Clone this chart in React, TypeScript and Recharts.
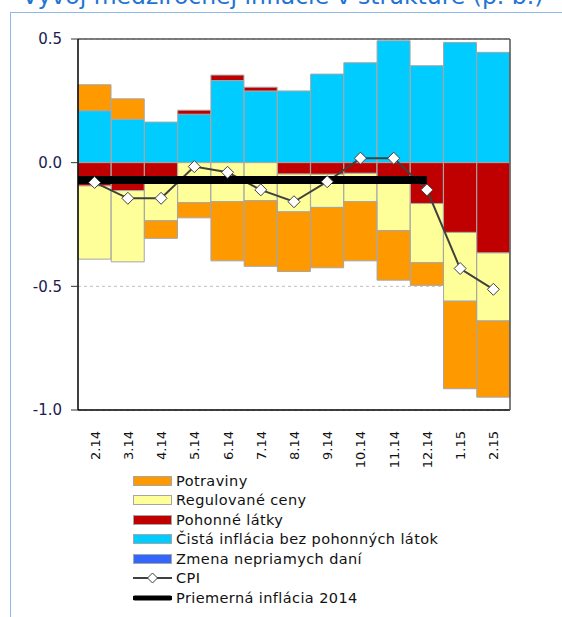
import React from 'react';
import {
  ComposedChart,
  Bar,
  Line,
  XAxis,
  YAxis,
  CartesianGrid,
  ReferenceLine,
} from 'recharts';

// months (Feb 2014 - Feb 2015)
const categories = ['2.14', '3.14', '4.14', '5.14', '6.14', '7.14', '8.14', '9.14', '10.14', '11.14', '12.14', '1.15', '2.15'];

// contributions in p. b.
const potraviny = [0.105, 0.082, -0.071, -0.061, -0.239, -0.265, -0.241, -0.244, -0.239, -0.2, -0.091, -0.354, -0.308];
const regulovane = [-0.296, -0.288, -0.165, -0.162, -0.158, -0.154, -0.153, -0.134, -0.115, -0.21, -0.24, -0.278, -0.275];
const pohonne = [-0.094, -0.113, -0.07, 0.016, 0.022, 0.015, -0.046, -0.047, -0.043, -0.065, -0.165, -0.282, -0.365];
const cista = [0.21, 0.176, 0.164, 0.196, 0.332, 0.29, 0.29, 0.358, 0.404, 0.493, 0.392, 0.486, 0.446];
const cpi = [-0.08, -0.144, -0.144, -0.016, -0.039, -0.11, -0.158, -0.077, 0.018, 0.018, -0.11, -0.428, -0.512];

// average 2014, drawn across the 2014 months
const avg2014 = -0.07;
const avgFrom = '2.14';
const avgTo = '12.14';

const yTicks = [-1, -0.5, 0, 0.5];

const FONT = '"DejaVu Sans", Verdana, sans-serif';
const LABEL = '#1c1c50';

const data = categories.map((c, i) => ({
  cat: c,
  potraviny: potraviny[i],
  regulovane: regulovane[i],
  pohonne: pohonne[i],
  cista: cista[i],
  cpi: cpi[i],
}));

function Diamond(props: any) {
  const { cx, cy } = props;
  if (cx == null || cy == null) return null;
  const r = 6;
  return (
    <polygon
      points={`${cx},${cy - r} ${cx + r},${cy} ${cx},${cy + r} ${cx - r},${cy}`}
      fill="#fff"
      stroke="#404040"
      strokeWidth={1}
    />
  );
}

// the Excel line starts at the left edge of the first band, so stretch the
// segment half a band to the left (band width taken from the segment itself)
function AvgLine(props: any) {
  const { x1, y1, x2, y2 } = props;
  if (x1 == null || x2 == null) return null;
  const steps = categories.indexOf(avgTo) - categories.indexOf(avgFrom);
  const half = (x2 - x1) / steps / 2;
  return <line x1={x1 - half} y1={y1} x2={x2} y2={y2} stroke="#000" strokeWidth={8} />;
}

function MonthTick({ x, y, payload }: any) {
  return (
    <text
      x={x + 5}
      y={y + 13}
      transform={`rotate(-90, ${x + 5}, ${y + 13})`}
      textAnchor="end"
      fontSize={13}
      fontFamily={FONT}
      fill="#111"
    >
      {payload.value}
    </text>
  );
}

const legendItems = [
  { name: 'Potraviny', color: '#FF9900', kind: 'box' },
  { name: 'Regulované ceny', color: '#FFFF99', kind: 'box' },
  { name: 'Pohonné látky', color: '#C00000', kind: 'box' },
  { name: 'Čistá inflácia bez pohonných látok', color: '#00CCFF', kind: 'box' },
  { name: 'Zmena nepriamych daní', color: '#3366FF', kind: 'box' },
  { name: 'CPI', color: '#404040', kind: 'cpi' },
  { name: 'Priemerná inflácia 2014', color: '#000', kind: 'thick' },
];

function Swatch({ kind, color }: { kind: string; color: string }) {
  if (kind === 'box') {
    return (
      <span
        style={{
          display: 'inline-block',
          width: 37,
          height: 8,
          background: color,
          border: '1px solid #a6a6a6',
        }}
      />
    );
  }
  if (kind === 'cpi') {
    return (
      <svg width={39} height={12} style={{ display: 'block' }}>
        <line x1={0} y1={6} x2={39} y2={6} stroke={color} strokeWidth={2} />
        <polygon points="19.5,1 24.5,6 19.5,11 14.5,6" fill="#fff" stroke={color} strokeWidth={1} />
      </svg>
    );
  }
  return (
    <svg width={39} height={12} style={{ display: 'block' }}>
      <line x1={2} y1={6} x2={37} y2={6} stroke={color} strokeWidth={5} strokeLinecap="round" />
    </svg>
  );
}

export default function App() {
  return (
    <div
      style={{
        position: 'fixed',
        left: 0,
        top: 0,
        width: 562,
        height: 617,
        background: '#fff',
        overflow: 'hidden',
        fontFamily: FONT,
      }}
    >
      {/* title, cut off by the crop */}
      <div
        style={{
          position: 'absolute',
          left: 22,
          top: -18,
          fontSize: 23.5,
          color: '#1f74d4',
          whiteSpace: 'nowrap',
        }}
      >
        Vývoj medziročnej inflácie v štruktúre (p. b.)
      </div>
      <div
        style={{
          position: 'absolute',
          left: 10,
          top: 12,
          width: 560,
          height: 620,
          borderLeft: '1px solid #8fb8ea',
          borderTop: '1px solid #8fb8ea',
        }}
      />

      <div style={{ position: 'absolute', left: 0, top: 0 }}>
        <ComposedChart
          width={562}
          height={470}
          data={data}
          margin={{ top: 39, right: 0, left: 0, bottom: 0 }}
          barCategoryGap={0}
          stackOffset="sign"
        >
          <CartesianGrid yAxisId="l" xAxisId="c" vertical={false} stroke="#c0c0c0" strokeDasharray="3 3" />
          <XAxis
            xAxisId="c"
            dataKey="cat"
            height={60}
            interval={0}
            tick={<MonthTick />}
            tickLine={false}
            axisLine={{ stroke: '#000', strokeWidth: 1.5 }}
          />
          <YAxis
            yAxisId="l"
            width={78}
            domain={[-1, 0.5]}
            ticks={yTicks}
            tickFormatter={(v: number) => v.toFixed(1)}
            tick={{ fontSize: 15, fill: LABEL, fontFamily: FONT }}
            tickSize={7}
            tickMargin={9}
            axisLine={{ stroke: '#000', strokeWidth: 1.5 }}
            tickLine={{ stroke: '#333' }}
          />
          <YAxis
            yAxisId="r"
            orientation="right"
            width={52}
            domain={[-1, 0.5]}
            ticks={yTicks}
            tickFormatter={(v: number) => v.toFixed(1)}
            tick={{ fontSize: 15, fill: LABEL, fontFamily: FONT, textAnchor: 'start' }}
            tickSize={7}
            tickMargin={6}
            axisLine={{ stroke: '#555', strokeWidth: 1.5 }}
            tickLine={{ stroke: '#333' }}
          />
          <ReferenceLine yAxisId="l" xAxisId="c" y={0.5} stroke="#555" strokeWidth={1.5} />

          <Bar xAxisId="c" yAxisId="l" dataKey="cista" stackId="s" fill="#00CCFF" stroke="#a6a6a6" strokeWidth={1} isAnimationActive={false} />
          <Bar xAxisId="c" yAxisId="l" dataKey="pohonne" stackId="s" fill="#C00000" stroke="#a6a6a6" strokeWidth={1} isAnimationActive={false} />
          <Bar xAxisId="c" yAxisId="l" dataKey="regulovane" stackId="s" fill="#FFFF99" stroke="#a6a6a6" strokeWidth={1} isAnimationActive={false} />
          <Bar xAxisId="c" yAxisId="l" dataKey="potraviny" stackId="s" fill="#FF9900" stroke="#a6a6a6" strokeWidth={1} isAnimationActive={false} />

          <Line
            xAxisId="c"
            yAxisId="l"
            dataKey="cpi"
            stroke="#404040"
            strokeWidth={2}
            dot={<Diamond />}
            activeDot={false}
            isAnimationActive={false}
          />
          <ReferenceLine
            xAxisId="c"
            yAxisId="l"
            position="middle"
            segment={[
              { x: avgFrom, y: avg2014 },
              { x: avgTo, y: avg2014 },
            ]}
            shape={<AvgLine />}
          />
        </ComposedChart>
      </div>

      <div style={{ position: 'absolute', left: 133, top: 471 }}>
        {legendItems.map((it) => (
          <div
            key={it.name}
            style={{
              display: 'flex',
              alignItems: 'center',
              height: 19.5,
              fontSize: 14.5,
              letterSpacing: 0.4,
              color: '#111',
            }}
          >
            <span style={{ width: 39, display: 'flex', alignItems: 'center' }}>
              <Swatch kind={it.kind} color={it.color} />
            </span>
            <span style={{ marginLeft: 4, whiteSpace: 'nowrap' }}>{it.name}</span>
          </div>
        ))}
      </div>
    </div>
  );
}
